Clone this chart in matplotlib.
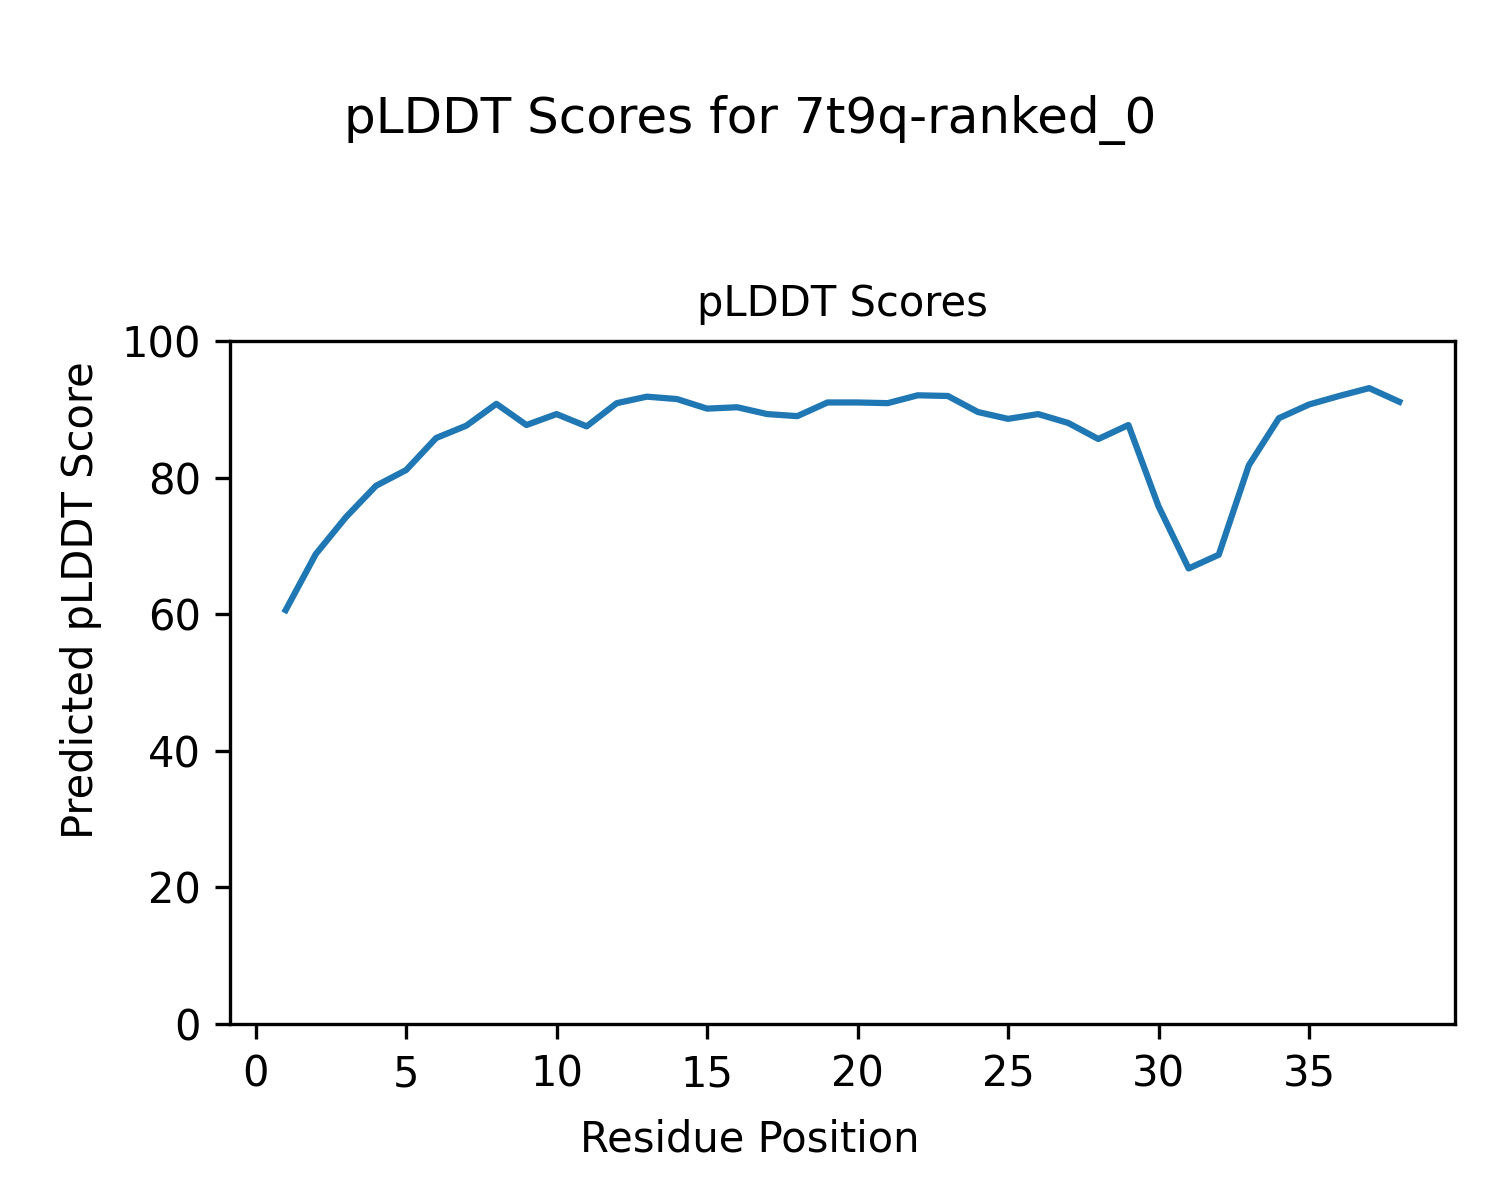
import matplotlib
matplotlib.use("Agg")
import matplotlib.pyplot as plt

residues = list(range(1, 39))
plddt = [60.6, 68.8, 74.2, 78.8, 81.1, 85.8, 87.6, 90.8, 87.7, 89.3,
         87.5, 90.9, 91.85, 91.5, 90.1, 90.3, 89.3, 89.0, 91.0, 91.0,
         90.9, 92.05, 91.95, 89.6, 88.6, 89.3, 88.0, 85.65, 87.7, 75.8,
         66.7, 68.7, 81.8, 88.7, 90.7, 91.95, 93.1, 91.1]

fig = plt.figure(figsize=(5, 4), dpi=300)
ax = fig.add_axes([230/1500, 1 - 1024/1200, (1455-230)/1500, (1024-341)/1200])
ax.plot(residues, plddt, color="#1f77b4")
ax.set_ylim(0, 100)
ax.set_title("pLDDT Scores", fontsize=10)
fig.text(0.5, 1 - 1151.7/1200, "Residue Position", ha="center", va="baseline", fontsize=10)
fig.text(81/1500, 0.5, "Predicted pLDDT Score", rotation=90, ha="center", va="center", fontsize=10)
fig.suptitle("pLDDT Scores for 7t9q-ranked_0", y=0.9, va="center")
fig.savefig("out.png", dpi=300)
